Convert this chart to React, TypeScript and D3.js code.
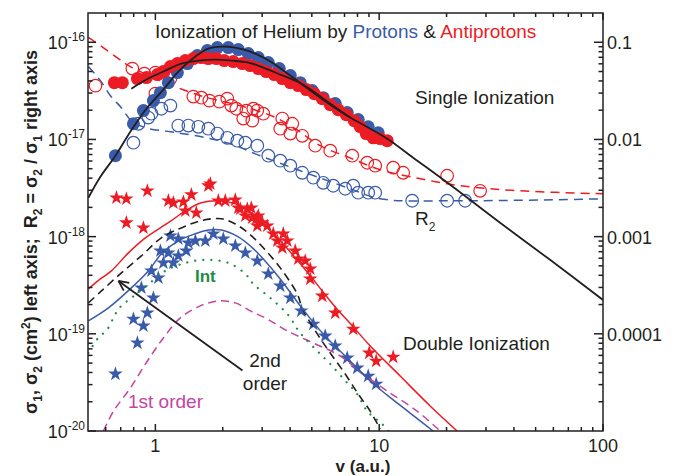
import { useEffect, useRef } from "react";
import * as d3 from "d3";

type Pt = [number, number];

// ---- single ionization, sigma1 in cm^2 (left axis) ----
const sigma1ProtonData: Pt[] = [
  [0.663, 6.8e-18], [0.798, 1.45e-17], [0.884, 1.98e-17], [0.98, 2.51e-17], [1.053, 3.03e-17],
  [1.143, 3.84e-17], [1.254, 4.87e-17], [1.39, 6.03e-17], [1.54, 7.29e-17], [1.707, 8.21e-17],
  [1.892, 8.82e-17], [2.118, 8.82e-17], [2.347, 8.41e-17], [2.601, 7.65e-17], [2.883, 6.96e-17],
  [3.195, 6.18e-17], [3.578, 5.36e-17], [4.007, 4.54e-17], [4.439, 3.84e-17], [5.022, 3.18e-17],
  [5.623, 2.69e-17], [6.362, 2.34e-17], [7.197, 1.89e-17], [8.06, 1.6e-17], [8.932, 1.35e-17],
  [9.897, 1.17e-17],
];

const sigma1AntiprotonData: Pt[] = [
  [0.656, 3.84e-17], [0.712, 3.84e-17], [0.831, 4.23e-17], [0.912, 4.33e-17], [1.021, 4.65e-17],
  [1.086, 4.99e-17], [1.167, 5.62e-17], [1.254, 6.03e-17], [1.361, 6.48e-17], [1.478, 6.79e-17],
  [1.605, 6.96e-17], [1.724, 6.79e-17], [1.873, 6.79e-17], [2.032, 6.48e-17], [2.229, 6.33e-17],
  [2.446, 6.03e-17], [2.655, 5.75e-17], [2.883, 5.36e-17], [3.13, 4.99e-17], [3.399, 4.65e-17],
  [3.69, 4.23e-17], [4.007, 3.84e-17], [4.349, 3.58e-17], [4.722, 3.26e-17], [5.127, 2.96e-17],
  [5.567, 2.63e-17], [6.043, 2.28e-17], [6.561, 2.02e-17], [7.123, 1.8e-17], [7.735, 1.56e-17],
  [8.228, 1.35e-17], [8.75, 1.15e-17], [9.402, 1.04e-17], [10.1, 1.02e-17], [10.86, 9.71e-18],
];

const sigma1ProtonTheory: Pt[] = [
  [0.502, 2.51e-18], [0.568, 4.13e-18], [0.663, 6.8e-18], [0.773, 1.2e-17], [0.912, 2.07e-17],
  [1.086, 3.26e-17], [1.266, 4.99e-17], [1.509, 7.12e-17], [1.724, 8.61e-17], [1.971, 9.03e-17],
  [2.276, 8.82e-17], [2.655, 8.02e-17], [3.262, 6.33e-17], [4.007, 4.54e-17], [4.92, 3.18e-17],
  [6.043, 2.28e-17], [7.423, 1.68e-17], [9.118, 1.29e-17], [11.19, 9.71e-18], [14.19, 6.49e-18],
  [20.75, 3.42e-18], [34.69, 1.39e-18], [58.0, 5.77e-19], [100, 2.23e-19],
];

const sigma1AntiprotonTheory: Pt[] = [
  [0.781, 3.33e-17], [0.93, 4.23e-17], [1.108, 5.11e-17], [1.306, 6.03e-17], [1.556, 6.48e-17],
  [1.853, 6.63e-17], [2.184, 6.48e-17], [2.601, 6.18e-17], [2.883, 5.75e-17], [3.614, 4.65e-17],
  [4.578, 3.66e-17], [6.043, 2.34e-17], [7.423, 1.68e-17],
];

// ---- ratio R2 = sigma2 / sigma1 (right axis) ----
const ratioProtonData: Pt[] = [
  [0.798, 0.00926], [0.84, 0.0145], [0.93, 0.0168], [0.96, 0.0184], [1.064, 0.0207], [1.167, 0.0223],
  [1.266, 0.0139], [1.404, 0.0139], [1.556, 0.0135], [1.724, 0.0129], [1.892, 0.0115], [2.096, 0.0104],
  [2.323, 0.00971], [2.523, 0.00926], [2.853, 0.00862], [3.195, 0.0068], [3.614, 0.00604],
  [4.007, 0.00537], [4.531, 0.00454], [5.075, 0.00404], [5.623, 0.00358], [6.233, 0.00334],
  [7.05, 0.00311], [7.656, 0.00334], [8.06, 0.00283], [8.932, 0.00283], [9.597, 0.00283],
  [14.04, 0.00234], [20.12, 0.00234], [24.21, 0.00234],
];

const ratioAntiprotonData: Pt[] = [
  [0.54, 0.0358], [0.789, 0.0536], [0.893, 0.0476], [1.0, 0.0487], [1.086, 0.0487], [1.167, 0.0423],
  [1.0, 0.0296], [1.478, 0.0276], [1.605, 0.0269], [1.742, 0.0251], [1.931, 0.0245], [2.096, 0.0263],
  [2.184, 0.0223], [2.299, 0.0207], [2.47, 0.0164], [2.549, 0.0198], [2.71, 0.0156], [2.738, 0.0207],
  [2.853, 0.0198], [3.035, 0.0184], [3.614, 0.0129], [3.69, 0.0164], [4.007, 0.0115], [4.09, 0.0145],
  [4.531, 0.0109], [5.18, 0.00862], [6.043, 0.00766], [7.577, 0.0068], [8.841, 0.00576],
  [9.597, 0.00537], [11.55, 0.00512], [12.8, 0.00454], [20.12, 0.00423], [28.25, 0.00296],
];

const ratioProtonTheory: Pt[] = [
  [0.502, 0.0562], [0.568, 0.0403], [0.63, 0.0282], [0.705, 0.0212], [0.781, 0.0156], [0.902, 0.0132],
  [1.167, 0.012], [1.588, 0.0107], [2.162, 0.00904], [2.94, 0.0068], [4.439, 0.00476], [7.423, 0.00311],
  [10.1, 0.00245], [23.0, 0.00234], [100, 0.00245],
];

const ratioAntiprotonTheory: Pt[] = [
  [0.502, 0.112], [0.568, 0.0925], [0.684, 0.0679], [0.773, 0.0562], [1.053, 0.0403], [1.588, 0.0282],
  [2.47, 0.0218], [3.364, 0.0172], [4.217, 0.0129], [5.45, 0.00862], [7.197, 0.00664], [10.1, 0.00488],
  [15.3, 0.00394], [23.0, 0.00334], [42.6, 0.00296], [100, 0.00276],
];

// ---- double ionization, sigma2 in cm^2 (left axis) ----
const sigma2ProtonData: Pt[] = [
  [0.663, 3.86e-20], [0.798, 1.42e-19], [0.831, 8.05e-20], [0.884, 1.21e-19], [0.921, 1.64e-19],
  [0.866, 2.97e-19], [0.98, 2.34e-19], [0.96, 4.44e-19], [1.031, 3.76e-19], [1.053, 7.14e-19],
  [1.143, 6.81e-19], [1.086, 5.37e-19], [1.203, 5.37e-19], [1.266, 6.34e-19], [1.375, 7.14e-19],
  [1.167, 1.02e-18], [1.266, 9.49e-19], [1.404, 8.63e-19], [1.509, 9.05e-19], [1.672, 9.05e-19],
  [1.815, 1.07e-18], [2.012, 9.49e-19], [2.276, 8.04e-19], [2.523, 6.81e-19], [2.853, 5.63e-19],
  [3.195, 4.14e-19], [3.614, 3.11e-19], [4.007, 2.34e-19], [4.485, 1.72e-19], [5.075, 1.26e-19],
  [5.74, 9.5e-20], [6.362, 7.5e-20], [7.197, 5.64e-20], [7.977, 4.45e-20], [8.932, 3.68e-20],
  [9.696, 3.04e-20],
];

const sigma2AntiprotonData: Pt[] = [
  [0.67, 2.51e-18], [0.742, 2.45e-18], [0.921, 2.96e-18], [0.742, 1.39e-18], [0.884, 1.23e-18],
  [1.143, 2.34e-18], [1.203, 2.23e-18], [1.334, 2.28e-18], [1.448, 2.7e-18], [1.361, 1.84e-18],
  [1.524, 1.76e-18], [1.724, 3.34e-18], [1.76, 3.5e-18], [1.911, 2.34e-18], [2.053, 2.34e-18],
  [2.276, 2.39e-18], [2.347, 1.98e-18], [2.396, 1.93e-18], [2.523, 1.64e-18], [2.575, 1.93e-18],
  [2.683, 1.98e-18], [2.71, 1.56e-18], [2.824, 1.53e-18], [2.883, 1.64e-18], [3.004, 1.39e-18],
  [2.853, 1.29e-18], [3.162, 1.29e-18], [3.364, 1.07e-18], [3.728, 1.07e-18], [3.505, 9.05e-19],
  [3.885, 9.05e-19], [3.69, 7.67e-19], [4.217, 7.14e-19], [4.349, 5.9e-19], [4.673, 5.63e-19],
  [4.92, 4.66e-19], [4.92, 3.67e-19], [5.567, 2.45e-19], [6.362, 1.64e-19], [7.656, 1.12e-19],
  [9.025, 6.35e-20], [9.696, 5.25e-20], [11.55, 5.77e-20],
];

const sigma2ProtonTheory: Pt[] = [
  [0.502, 1.36e-19], [0.617, 1.85e-19], [0.781, 2.97e-19], [0.93, 4.44e-19], [1.064, 6.65e-19],
  [1.266, 9.05e-19], [1.509, 1.07e-18], [1.724, 1.17e-18], [1.971, 1.17e-18], [2.347, 9.95e-19],
  [2.683, 7.85e-19], [3.035, 5.9e-19], [3.614, 3.67e-19], [4.439, 1.94e-19], [5.623, 9.97e-20],
  [7.197, 5.64e-20], [9.118, 3.27e-20], [10.86, 2.34e-20], [13.75, 1.53e-20], [17.42, 1.0e-20],
];

const sigma2AntiprotonTheory: Pt[] = [
  [0.502, 2.9e-19], [0.568, 3.67e-19], [0.636, 4.44e-19], [0.758, 6.81e-19], [0.902, 9.72e-19],
  [1.143, 1.39e-18], [1.361, 1.84e-18], [1.605, 2.23e-18], [1.911, 2.34e-18], [2.276, 2.18e-18],
  [2.683, 1.76e-18], [3.098, 1.29e-18], [3.614, 9.05e-19], [4.217, 6.05e-19], [4.92, 3.95e-19],
  [5.567, 2.76e-19], [6.362, 1.89e-19], [7.656, 1.18e-19], [9.118, 7.5e-20], [12.41, 3.68e-20],
  [16.89, 1.81e-20], [22.3, 1.0e-20],
];

const sigma2SecondOrder: Pt[] = [
  [0.502, 2.08e-19], [0.574, 2.76e-19], [0.705, 4.24e-19], [0.866, 6.34e-19], [1.064, 9.72e-19],
  [1.306, 1.23e-18], [1.605, 1.46e-18], [1.971, 1.53e-18], [2.276, 1.35e-18], [2.601, 1.09e-18],
  [3.035, 7.67e-19], [3.614, 4.77e-19], [4.305, 2.57e-19], [4.531, 1.85e-19], [5.288, 9.97e-20],
  [6.043, 6.35e-20], [7.05, 3.86e-20], [8.06, 2.4e-20], [9.118, 1.6e-20], [10.1, 1.05e-20],
];

const sigma2Interference: Pt[] = [
  [0.502, 6.35e-20], [0.551, 8.85e-20], [0.611, 1.12e-19], [0.663, 1.6e-19], [0.705, 1.94e-19],
  [0.781, 2.34e-19], [0.912, 3.11e-19], [1.108, 4.44e-19], [1.361, 5.37e-19], [1.672, 5.77e-19],
  [2.118, 5.37e-19], [2.523, 4.14e-19], [2.738, 3.26e-19], [3.262, 2.34e-19], [3.885, 1.6e-19],
  [4.439, 1.02e-19], [5.288, 6.66e-20], [6.043, 4.89e-20], [7.197, 3.12e-20], [7.977, 2.4e-20],
  [8.841, 1.6e-20], [10.31, 1.18e-20], [10.97, 1.0e-20],
];

const sigma2FirstOrder: Pt[] = [
  [0.586, 1.0e-20], [0.65, 1.6e-20], [0.773, 2.77e-20], [0.921, 5.25e-20], [1.086, 9.06e-20],
  [1.293, 1.46e-19], [1.588, 1.94e-19], [1.911, 2.18e-19], [2.276, 2.08e-19], [2.655, 1.72e-19],
  [3.162, 1.42e-19], [3.885, 1.07e-19], [5.075, 8.05e-20], [6.699, 5.91e-20], [8.486, 3.86e-20],
  [10.86, 2.58e-20], [14.78, 1.6e-20], [18.73, 1.0e-20],
];

// ---- axes ----
const xTickValues = [1, 10, 100];
const xTickLabels = ["1", "10", "100"];
const yTickValues = [1e-20, 1e-19, 1e-18, 1e-17, 1e-16];
const yTickExponents = ["-20", "-19", "-18", "-17", "-16"];
const rTickValues = [1e-4, 1e-3, 1e-2, 1e-1];
const rTickLabels = ["0.0001", "0.001", "0.01", "0.1"];

const BLUE = "#3a5ba9";
const RED = "#ec1c24";
const INK = "#231f20";
const GREEN = "#1e8c45";
const MAGENTA = "#c4449e";
const FONT = "'Liberation Sans', Arial, Helvetica, sans-serif";

export default function App() {
  const svgRef = useRef<SVGSVGElement>(null);

  useEffect(() => {
    const svg = d3.select(svgRef.current);
    svg.selectAll("*").remove();

    const width = 690;
    const height = 476;
    const left = 88, right = 603, top = 13, bottom = 431;

    svg.attr("width", width).attr("height", height).style("font-family", FONT);

    const x = d3.scaleLog().domain([0.5, 100]).range([left, right]);
    const y = d3.scaleLog().domain([1e-20, 2e-16]).range([bottom, top]);
    const yR = d3.scaleLog().domain([1e-5, 0.2]).range([bottom, top]);

    svg.append("defs").append("clipPath").attr("id", "plot-clip")
      .append("rect").attr("x", left).attr("y", top)
      .attr("width", right - left).attr("height", bottom - top);

    const plot = svg.append("g").attr("clip-path", "url(#plot-clip)");
    const marks = svg.append("g");

    const lineFor = (scale: d3.ScaleLogarithmic<number, number>) =>
      d3.line<Pt>().x(d => x(d[0])).y(d => scale(d[1])).curve(d3.curveCatmullRom.alpha(0.5));

    const drawLine = (data: Pt[], scale: any, color: string, w: number, dash?: string, cap = "butt") =>
      plot.append("path").datum(data)
        .attr("fill", "none").attr("stroke", color).attr("stroke-width", w)
        .attr("stroke-dasharray", dash ?? null).attr("stroke-linecap", cap)
        .attr("d", lineFor(scale));

    // R2 theory (dashed)
    drawLine(ratioProtonTheory, yR, BLUE, 1.5, "9 6");
    drawLine(ratioAntiprotonTheory, yR, RED, 1.5, "9 6");

    // R2 data (open circles)
    const openCircles = (data: Pt[], color: string) =>
      marks.append("g").selectAll("circle").data(data).enter().append("circle")
        .attr("cx", d => x(d[0])).attr("cy", d => yR(d[1])).attr("r", 6.3)
        .attr("fill", "none").attr("stroke", color).attr("stroke-width", 1.2);
    openCircles(ratioProtonData, BLUE);
    openCircles(ratioAntiprotonData, RED);

    // sigma1 data (filled circles)
    const filledCircles = (data: Pt[], color: string) =>
      marks.append("g").selectAll("circle").data(data).enter().append("circle")
        .attr("cx", d => x(d[0])).attr("cy", d => y(d[1])).attr("r", 6.5)
        .attr("fill", color);
    filledCircles(sigma1ProtonData, BLUE);
    filledCircles(sigma1AntiprotonData, RED);

    // sigma1 theory
    const top1 = svg.append("g").attr("clip-path", "url(#plot-clip)");
    const sig1Line = lineFor(y);
    top1.append("path").datum(sigma1ProtonTheory).attr("fill", "none")
      .attr("stroke", INK).attr("stroke-width", 1.8).attr("d", sig1Line);
    top1.append("path").datum(sigma1AntiprotonTheory).attr("fill", "none")
      .attr("stroke", INK).attr("stroke-width", 1.8).attr("d", sig1Line);

    // double ionization curves
    const dbl = svg.append("g").attr("clip-path", "url(#plot-clip)");
    const dblLine = (data: Pt[], color: string, w: number, dash?: string, cap = "butt") =>
      dbl.append("path").datum(data).attr("fill", "none").attr("stroke", color)
        .attr("stroke-width", w).attr("stroke-dasharray", dash ?? null)
        .attr("stroke-linecap", cap).attr("d", sig1Line);
    dblLine(sigma2FirstOrder, MAGENTA, 1.5, "8 5");
    dblLine(sigma2Interference, GREEN, 2.2, "0.1 8", "round");
    dblLine(sigma2SecondOrder, INK, 1.6, "8 5");
    dblLine(sigma2ProtonTheory, BLUE, 1.5);
    dblLine(sigma2AntiprotonTheory, RED, 1.5);

    // stars
    const star = d3.symbol().type(d3.symbolStar).size(66)()!;
    const stars = (data: Pt[], color: string) =>
      marks.append("g").selectAll("path").data(data).enter().append("path")
        .attr("d", star).attr("transform", d => `translate(${x(d[0])},${y(d[1])})`)
        .attr("fill", color);
    stars(sigma2ProtonData, BLUE);
    stars(sigma2AntiprotonData, RED);

    // ---- frame & ticks ----
    const axes = svg.append("g").attr("stroke", INK).attr("stroke-width", 1.5);
    axes.append("rect").attr("x", left).attr("y", top).attr("width", right - left)
      .attr("height", bottom - top).attr("fill", "none");

    const xMinor: number[] = [];
    [0.1, 1, 10].forEach(p => d3.range(2, 10).forEach(k => {
      const v = k * p;
      if (v > 0.5 && v < 100) xMinor.push(v);
    }));
    xMinor.forEach(v => {
      axes.append("line").attr("x1", x(v)).attr("x2", x(v)).attr("y1", bottom).attr("y2", bottom - 4);
      axes.append("line").attr("x1", x(v)).attr("x2", x(v)).attr("y1", top).attr("y2", top + 4);
    });
    xTickValues.forEach(v => {
      axes.append("line").attr("x1", x(v)).attr("x2", x(v)).attr("y1", bottom).attr("y2", bottom - 7);
      axes.append("line").attr("x1", x(v)).attr("x2", x(v)).attr("y1", top).attr("y2", top + 7);
    });

    const yMinor: number[] = [];
    [1e-20, 1e-19, 1e-18, 1e-17, 1e-16].forEach(p => d3.range(2, 10).forEach(k => {
      const v = k * p;
      if (v < 1.99e-16) yMinor.push(v);
    }));
    yMinor.forEach(v => {
      axes.append("line").attr("x1", left).attr("x2", left + 4.5).attr("y1", y(v)).attr("y2", y(v));
      axes.append("line").attr("x1", right).attr("x2", right - 4.5).attr("y1", y(v)).attr("y2", y(v));
    });
    yTickValues.forEach(v => {
      axes.append("line").attr("x1", left).attr("x2", left + 8).attr("y1", y(v)).attr("y2", y(v));
    });
    rTickValues.forEach(v => {
      axes.append("line").attr("x1", right).attr("x2", right - 9).attr("y1", yR(v)).attr("y2", yR(v));
    });

    // tick labels
    const labels = svg.append("g").attr("fill", INK);
    xTickValues.forEach((v, i) => {
      labels.append("text").attr("x", x(v)).attr("y", 452).attr("text-anchor", "middle")
        .attr("font-size", 18).text(xTickLabels[i]);
    });
    yTickValues.forEach((v, i) => {
      const t = labels.append("text").attr("x", 85).attr("y", y(v) + 7)
        .attr("text-anchor", "end").attr("font-size", 18);
      t.append("tspan").text("10");
      t.append("tspan").attr("dy", -8).attr("font-size", 12).text(yTickExponents[i]);
    });
    rTickValues.forEach((v, i) => {
      labels.append("text").attr("x", 607).attr("y", yR(v) + 7).attr("font-size", 18)
        .text(rTickLabels[i]);
    });

    // axis titles
    labels.append("text").attr("x", 363).attr("y", 472).attr("text-anchor", "middle")
      .attr("font-size", 17).attr("font-weight", "bold").text("v (a.u.)");

    const yl = labels.append("text").attr("transform", "translate(37,232) rotate(-90)")
      .attr("text-anchor", "middle").attr("font-size", 18).attr("font-weight", "bold")
      .style("white-space", "pre");
    const parts: [string, number, number][] = [
      ["σ", 0, 18], ["1", 5, 12], [", σ", -5, 18], ["2", 5, 12], [" (cm", -5, 18], ["2", -7, 12],
      [") left axis;  R", 7, 18], ["2", 5, 12], [" = σ", -5, 18], ["2", 5, 12], [" / σ", -5, 18],
      ["1", 5, 12], [" right axis", -5, 18],
    ];
    parts.forEach(([s, dy, fs]) => yl.append("tspan").attr("dy", dy).attr("font-size", fs).text(s));

    // title
    const title = labels.append("text").attr("x", 155).attr("y", 38).attr("font-size", 19)
      .style("white-space", "pre");
    title.append("tspan").text("Ionization of Helium by ");
    title.append("tspan").attr("fill", BLUE).text("Protons");
    title.append("tspan").text(" & ");
    title.append("tspan").attr("fill", RED).text("Antiprotons");

    // annotations
    labels.append("text").attr("x", 415).attr("y", 104).attr("font-size", 19).text("Single Ionization");
    const r2 = labels.append("text").attr("x", 415).attr("y", 225).attr("font-size", 19);
    r2.append("tspan").text("R");
    r2.append("tspan").attr("dy", 6).attr("font-size", 12).text("2");
    labels.append("text").attr("x", 403).attr("y", 350).attr("font-size", 19).text("Double Ionization");
    labels.append("text").attr("x", 195).attr("y", 282).attr("font-size", 17)
      .attr("font-weight", "bold").attr("fill", GREEN).text("Int");
    labels.append("text").attr("x", 265).attr("y", 367).attr("text-anchor", "middle")
      .attr("font-size", 19).text("2nd");
    labels.append("text").attr("x", 265).attr("y", 390).attr("text-anchor", "middle")
      .attr("font-size", 19).text("order");
    labels.append("text").attr("x", 128).attr("y", 408).attr("font-size", 19)
      .attr("fill", MAGENTA).text("1st order");

    // arrow pointing to the 2nd order curve
    const ax0 = x(2.45), ay0 = y(4.2e-20), ax1 = x(0.684), ay1 = y(3.5e-19);
    const ang = Math.atan2(ay0 - ay1, ax0 - ax1);
    const arrow = svg.append("g").attr("stroke", INK).attr("stroke-width", 1.8).attr("fill", "none");
    arrow.append("line").attr("x1", ax0).attr("y1", ay0).attr("x2", ax1).attr("y2", ay1);
    [0.45, -0.45].forEach(da => {
      arrow.append("line").attr("x1", ax1).attr("y1", ay1)
        .attr("x2", ax1 + 11 * Math.cos(ang + da)).attr("y2", ay1 + 11 * Math.sin(ang + da));
    });
  }, []);

  return (
    <svg ref={svgRef} style={{ position: "absolute", left: 0, top: 0, display: "block", background: "#fff" }} />
  );
}
